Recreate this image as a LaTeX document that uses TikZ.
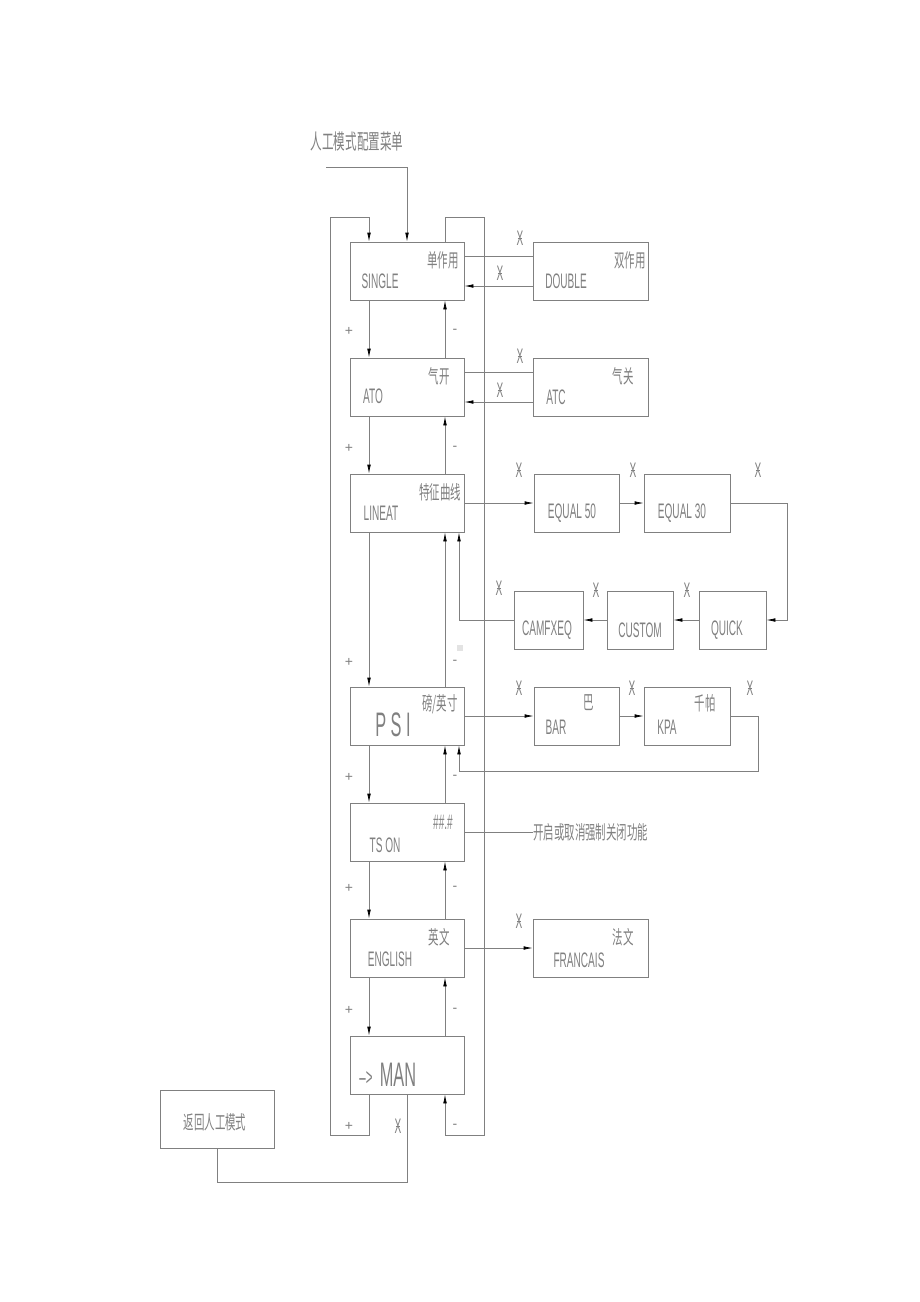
\documentclass[tikz,border=0pt]{standalone}
\usepackage{fontspec}
\usetikzlibrary{arrows.meta}
\newfontfamily\latf[FakeStretch=0.48]{Liberation Sans}
\newfontfamily\latn{Liberation Sans}
\newfontfamily\cjkf[FakeStretch=0.55]{Noto Sans CJK SC}
\definecolor{lc}{gray}{0.5}
\definecolor{tc}{gray}{0.5}
\newcommand\xmark{\ooalign{\hfil X\hfil\cr\hfil\rule[6.6pt]{4.5pt}{0.6pt}\hfil\cr}}
\tikzset{
 box/.style={draw=lc, line width=0.7pt, minimum height=58pt, inner sep=0pt},
 lt/.style={text=tc, inner sep=0pt, font=\latf\fontsize{21}{22}\selectfont},
 big/.style={text=tc, inner sep=0pt, font=\latf\fontsize{34}{36}\selectfont},
 ct/.style={text=tc, inner sep=0pt, font=\cjkf\fontsize{19}{20}\selectfont},
 ln/.style={draw=lc, line width=0.7pt},
 arr/.style={ln, -{Latex[length=9pt,width=3.6pt,black]}},
 pm/.style={text=tc, inner sep=0pt, font=\latn\fontsize{14}{14}\selectfont},
 xs/.style={text=tc, inner sep=0pt, font=\latf\fontsize{21}{21}\selectfont},
}
\begin{document}
\begin{tikzpicture}[x=1pt,y=-1pt]
\useasboundingbox (0,0) rectangle (920,1302);
% boxes
\node[box, minimum width=114pt] (single) at (407,271) {};
\node[box, minimum width=114pt] (ato) at (407,387) {};
\node[box, minimum width=114pt] (lineat) at (407,503) {};
\node[box, minimum width=114pt] (psi) at (407,716) {};
\node[box, minimum width=114pt] (tson) at (407,832) {};
\node[box, minimum width=114pt] (eng) at (407,948) {};
\node[box, minimum width=114pt] (man) at (407,1065) {};
\node[box, minimum width=115pt] (double) at (590.5,271) {};
\node[box, minimum width=115pt] (atc) at (590.5,387) {};
\node[box, minimum width=115pt] (fr) at (590.5,948) {};
\node[box, minimum width=85pt] (eq50) at (576.5,503) {};
\node[box, minimum width=86pt] (eq30) at (687,503) {};
\node[box, minimum width=67pt] (quick) at (732.5,620) {};
\node[box, minimum width=66pt] (custom) at (640,620) {};
\node[box, minimum width=69pt] (camf) at (548.5,620) {};
\node[box, minimum width=85pt] (bar) at (576.5,716) {};
\node[box, minimum width=86pt] (kpa) at (687,716) {};
\node[box, minimum width=114pt] (ret) at (217,1119) {};
% texts
\node[ct, font=\cjkf\fontsize{21}{22}\selectfont] (title) at (357,142) {人工模式配置菜单};
\node[lt] (t1) at (380,281) {SINGLE};
\node[ct] (c1) at (443,260) {单作用};
\node[lt] (t2) at (566,281) {DOUBLE};
\node[ct] (c2) at (630,260) {双作用};
\node[lt] (t3) at (373,396) {ATO};
\node[ct] (c3) at (439,376) {气开};
\node[lt] (t4) at (556,397) {ATC};
\node[ct] (c4) at (623,376) {气关};
\node[lt] (t5) at (381,513) {LINEAT};
\node[ct] (c5) at (440,492) {特征曲线};
\node[lt] (t6) at (572,513) {EQUAL 50};
\node[lt] (t7) at (682,513) {EQUAL 30};
\node[lt] (t8) at (727,630) {QUICK};
\node[lt] (t9) at (640,630) {CUSTOM};
\node[lt] (t10) at (547,630) {CAMFXEQ};
\node[big] (t11) at (393,725) {P S I};
\node[ct] (c11) at (440,704) {磅/英寸};
\node[lt] (t12) at (556,727) {BAR};
\node[ct] (c12) at (589,703) {巴};
\node[lt] (t13) at (667,727) {KPA};
\node[ct] (c13) at (705,703) {千帕};
\node[lt] (t14) at (385,845) {TS ON};
\node[lt] (c14) at (443,822) {\#\#.\#};
\node[ct, anchor=west] (note) at (533,832) {开启或取消强制关闭功能};
\node[lt] (t15) at (390,959) {ENGLISH};
\node[ct] (c15) at (439,937) {英文};
\node[lt] (t16) at (579,960) {FRANCAIS};
\node[ct] (c16) at (623,937) {法文};
\node[lt, font=\latf\fontsize{24}{24}\selectfont] (t17) at (366,1078) {–>};
\node[big] (t18) at (398,1075) {MAN};
\node[ct] (c18) at (215,1122) {返回人工模式};
\node[fill=gray!22, minimum size=6pt, inner sep=0pt] (sq) at (460,648) {};
% star marks
\foreach \n/\x/\y in {s1/520/238, s2/500/273, s3/520/356, s4/500/390, s5/519/470, s6/633/470, s7/758/470, s8/499/588, s9/596/590, s10/687/590, s11/519/688, s12/632/688, s13/750/688, s14/519/921, s15/398/1126}
  \node[xs] (\n) at (\x,\y) {\xmark};
% plus / minus
\foreach \n/\y in {1/331, 2/448, 3/662, 4/777, 5/888, 6/1010, 7/1126}{
  \node[pm] (p\n) at (349,\y) {+};
  \node[pm] (m\n) at (455,\y) {-};
}
% connectors
\draw[ln] ([yshift=15pt]single.east) -- ([yshift=15pt]double.west);
\draw[arr] ([yshift=-15pt]double.west) -- ([yshift=-15pt]single.east);
\draw[ln] ([yshift=15pt]ato.east) -- ([yshift=15pt]atc.west);
\draw[arr] ([yshift=-15pt]atc.west) -- ([yshift=-15pt]ato.east);
\draw[arr] (lineat.east) -- (eq50.west);
\draw[arr] (eq50.east) -- (eq30.west);
\coordinate (qr) at (787,620);
\draw[arr] (eq30.east) -| (qr) -- (quick.east);
\draw[arr] (quick.west) -- (custom.east);
\draw[arr] (custom.west) -- (camf.east);
\draw[arr] (camf.west) -| ([xshift=52pt]lineat.south);
\draw[arr] (psi.east) -- (bar.west);
\draw[arr] (bar.east) -- (kpa.west);
\coordinate (kr) at (758,771);
\draw[arr] (kpa.east) -| (kr) -| ([xshift=52pt]psi.south);
\draw[ln] (tson.east) -- (note.west);
\draw[arr] (eng.east) -- (fr.west);
\foreach \a/\b in {single/ato, ato/lineat, lineat/psi, psi/tson, tson/eng, eng/man}{
  \draw[arr] ([xshift=-38pt]\a.south) -- ([xshift=-38pt]\b.north);
  \draw[arr] ([xshift=38pt]\b.north) -- ([xshift=38pt]\a.south);
}
\coordinate (lt) at (330,217);
\coordinate (lb) at (330,1135);
\coordinate (rt) at (484,217);
\coordinate (rb) at (484,1135);
\draw[arr] ([xshift=-38pt]man.south) |- (lb) -- (lt) -| ([xshift=-38pt]single.north);
\draw[arr] ([xshift=38pt]single.north) |- (rt) -- (rb) -| ([xshift=38pt]man.south);
\coordinate (en) at (326,167);
\draw[arr] (en) -| (single.north);
\coordinate (rc) at (300,1182);
\draw[ln] (ret.south) |- (rc) -| (man.south);
\end{tikzpicture}
\end{document}
